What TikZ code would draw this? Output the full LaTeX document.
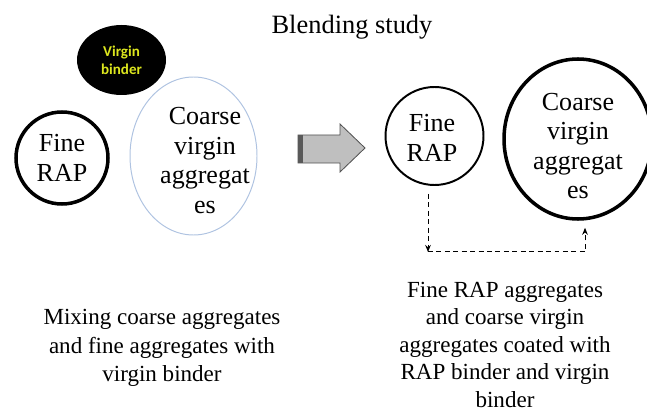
\documentclass[tikz,border=0pt]{standalone}
\usepackage{fontspec}
\setmainfont{Liberation Serif}
\newfontfamily\binderfont{Carlito}
\usetikzlibrary{calc, arrows.meta, shapes.geometric}
\definecolor{binderyellow}{RGB}{220,230,30}
\definecolor{paleblue}{RGB}{175,195,225}
\tikzset{
    my-aggregate/.style={
        shape=ellipse, inner sep=0pt, black
    },
    my-aggregate-text/.style={
        align=center, font=\fontsize{18.5}{21}\selectfont
    },
    my-caption/.style={
        align=center, font=\fontsize{16.4}{20.1}\selectfont
    },
    my-link/.style={
        dashed, dash pattern=on 3.5pt off 2.5pt, line width=0.7pt,
        -{Stealth[length=5pt, width=4pt]}
    },
}

\begin{document}
\begin{tikzpicture}

        \useasboundingbox (0, 0) rectangle (16.175, 10.3);

        % TITLE ---------------------------------------------------------------------------------------
        \node[font=\fontsize{18.8}{22}\selectfont] (TITLE) at (8.8, 9.625) {Blending study};

        % BEFORE MIXING -------------------------------------------------------------------------------

        % VIRGIN BINDER
        \node[my-aggregate, fill, minimum width=2.225cm, minimum height=1.75cm] (BINDER) at (3.0375, 8.8) {};
        \node[align=center, text=binderyellow, font=\binderfont\bfseries\fontsize{10.7}{12.8}\selectfont]
            (BINDERTEXT) at (BINDER) {Virgin\\binder};

        % FINE RAP AND COARSE VIRGIN AGGREGATES
        \node[my-aggregate, draw, line width=2.5pt, minimum size=2.3cm] (FINERAP1) at (1.55, 6.35) {};
        \node[my-aggregate-text] (FINERAP1TEXT) at (FINERAP1) {Fine\\RAP};
        \node[my-aggregate, draw=paleblue, line width=0.7pt, minimum width=3.175cm, minimum height=3.95cm]
            (COARSE1) at ($(FINERAP1) + (3.2875, 0.05)$) {};
        \node[my-aggregate-text] (COARSE1TEXT) at ($(COARSE1) + (0.2875, -0.1125)$) {Coarse\\virgin\\aggregat\\es};

        % CAPTION
        \node[my-caption] (CAPTION1) at (4.05, 1.6) {Mixing coarse aggregates\\and fine aggregates with\\virgin binder};

        % BLOCK ARROW ---------------------------------------------------------------------------------
        \draw[fill=gray!50, draw=gray!65!black, line width=0.6pt]
            (7.45, 6.925) -- (8.5, 6.925) -- (8.5, 7.2) -- (9.125, 6.6)
            -- (8.5, 6.0) -- (8.5, 6.225) -- (7.45, 6.225) -- cycle;
        \fill[gray!70!black] (7.45, 6.225) rectangle (7.58, 6.925);

        % AFTER MIXING --------------------------------------------------------------------------------

        % FINE RAP AND COARSE VIRGIN AGGREGATES
        \node[my-aggregate, draw, line width=1.4pt, minimum size=2.45cm] (FINERAP2) at (10.8625, 6.9) {};
        \node[my-aggregate-text] (FINERAP2TEXT) at ($(FINERAP2) + (-0.0625, -0.05)$) {Fine\\RAP};
        \node[my-aggregate, draw, line width=2.5pt, minimum width=3.7cm, minimum height=4.0cm]
            (COARSE2) at ($(FINERAP2) + (3.5875, -0.075)$) {};
        \node[my-aggregate-text] (COARSE2TEXT) at ($(COARSE2) + (0, -0.175)$) {Coarse\\virgin\\aggregat\\es};

        % BINDER EXCHANGE
        \coordinate (LINKSTART)  at ($(FINERAP2.south) + (-0.1625, -0.2)$);
        \coordinate (LINKCORNER) at ($(LINKSTART) + (0, -1.45)$);
        \coordinate (LINKEND)    at ($(COARSE2.south) + (0.175, -0.175)$);
        \draw[my-link] (LINKSTART) -- (LINKCORNER);
        \draw[my-link] (LINKCORNER) -- (LINKCORNER -| LINKEND) -- (LINKEND);

        % CAPTION
        \node[my-caption, font=\fontsize{16.4}{19.6}\selectfont] (CAPTION2) at (12.625, 1.68)
            {Fine RAP aggregates\\and coarse virgin\\aggregates coated with\\RAP binder and virgin\\binder};

\end{tikzpicture}
\end{document}
